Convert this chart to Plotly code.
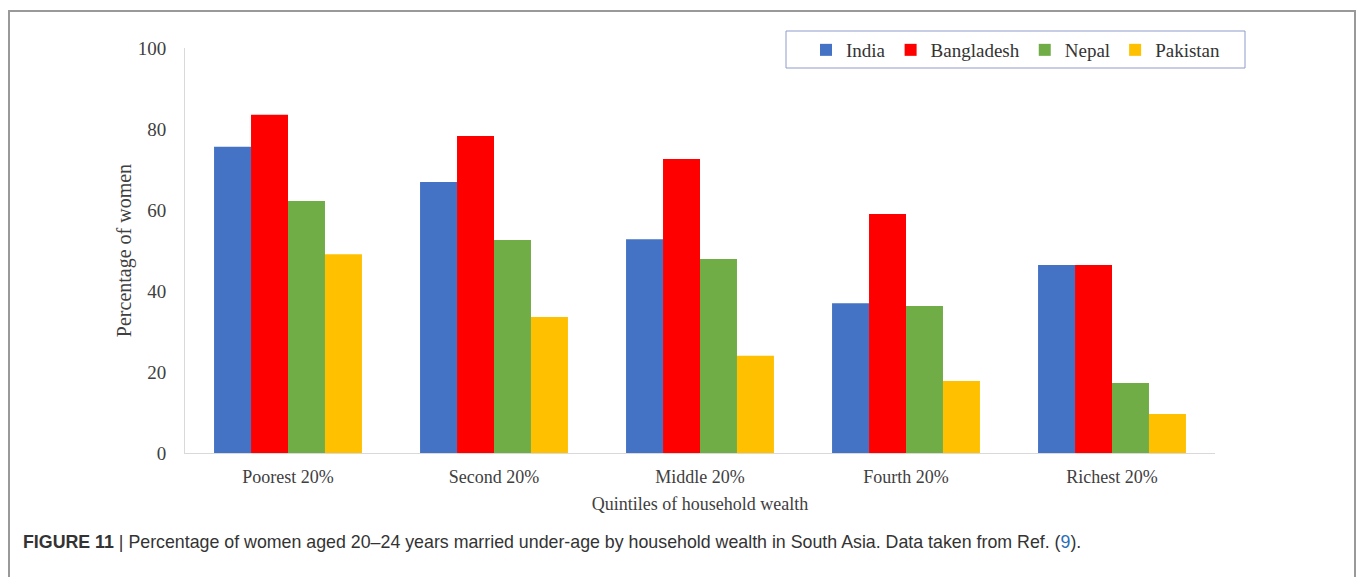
import plotly.graph_objects as go

categories = ["Poorest 20%", "Second 20%", "Middle 20%", "Fourth 20%", "Richest 20%"]
india = [75.6, 66.9, 52.8, 37.0, 46.4]
bangladesh = [83.5, 78.3, 72.6, 59.0, 46.4]
nepal = [62.2, 52.6, 47.9, 36.3, 17.3]
pakistan = [49.1, 33.6, 24.0, 17.8, 9.6]
series_names = ["India", "Bangladesh", "Nepal", "Pakistan"]
series_colors = ["#4472C4", "#FF0000", "#70AD47", "#FFC000"]
y_ticks = [0, 20, 40, 60, 80, 100]

W, H = 1357, 577
L, R, T, B = 185, 142, 48, 124
pw = W - L - R
ph = H - T - B


def px_x(p):
    return (p - L) / pw


def px_y(p):
    return (H - B - p) / ph


serif = "Liberation Serif, Times New Roman, serif"
fig = go.Figure()
for name, vals, col in zip(series_names, [india, bangladesh, nepal, pakistan], series_colors):
    fig.add_trace(go.Bar(x=categories, y=vals, name=name, marker=dict(color=col, line=dict(width=0))))

fig.update_layout(
    width=W, height=H,
    margin=dict(l=L, r=R, t=T, b=B, pad=0),
    paper_bgcolor="white", plot_bgcolor="white",
    barmode="group", bargap=0.282, bargroupgap=0,
    font=dict(family=serif, size=18, color="#404040"),
    showlegend=True,
    legend=dict(
        orientation="h", x=px_x(806), y=px_y(31), xanchor="left", yanchor="top",
        borderwidth=0, bgcolor="rgba(0,0,0,0)",
        font=dict(family=serif, size=19, color="#333333"),
        itemwidth=30, tracegroupgap=0,
    ),
    xaxis=dict(
        showline=True, linecolor="#d9d9d9", linewidth=1, ticks="", showgrid=False,
        tickfont=dict(family=serif, size=18, color="#404040"),
        title=dict(text="Quintiles of household wealth", font=dict(family=serif, size=18, color="#404040"), standoff=11),
        ticklabelstandoff=7,
    ),
    yaxis=dict(
        range=[0, 100], tickvals=y_ticks, showline=True, linecolor="#d9d9d9", linewidth=1,
        ticks="", showgrid=False, zeroline=False,
        tickfont=dict(family=serif, size=19, color="#404040"),
        title=dict(text="Percentage of women", font=dict(family=serif, size=20, color="#404040"), standoff=0),
        ticklabelstandoff=14,
    ),
)

# legend frame
fig.add_shape(type="rect", xref="paper", yref="paper",
              x0=px_x(786), x1=px_x(1245), y0=px_y(68), y1=px_y(31),
              line=dict(color="#8e9bc9", width=1), fillcolor="rgba(0,0,0,0)", layer="below")

# figure frame (top, left, right)
fig.add_shape(type="path", xref="paper", yref="paper",
              path=f"M {px_x(9)} {px_y(590)} L {px_x(9)} {px_y(11)} L {px_x(1355)} {px_y(11)} L {px_x(1355)} {px_y(590)}",
              line=dict(color="#999999", width=2))

fig.add_annotation(
    xref="paper", yref="paper", x=px_x(21), y=px_y(542), xanchor="left", yanchor="middle",
    showarrow=False, align="left",
    text="<b>FIGURE 11</b> | Percentage of women aged 20–24 years married under-age by household wealth in South Asia. Data taken from Ref. (<span style='color:#2a6ebb'>9</span>).",
    font=dict(family="Liberation Sans, Arial, sans-serif", size=17.8, color="#333333"),
)

fig.write_html("out.html")
